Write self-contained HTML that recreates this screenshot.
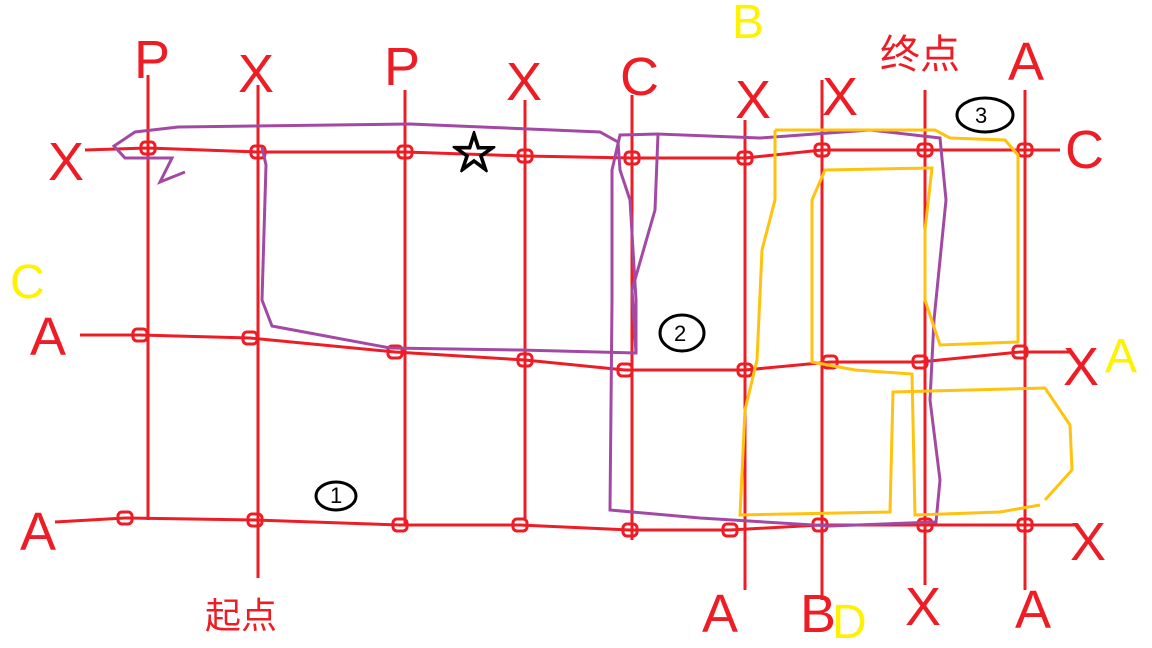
<!DOCTYPE html>
<html><head><meta charset="utf-8"><style>
html,body{margin:0;padding:0;background:#fff;width:1152px;height:648px;overflow:hidden}
svg text{font-family:"Liberation Sans","Noto Sans CJK SC",sans-serif}
</style></head><body>
<svg id="c" width="1152" height="648" viewBox="0 0 1152 648">
<g id="lines" fill="none" stroke="#ee1c24" stroke-width="3"></g>
<g id="nodes" fill="none" stroke="#ee1c24" stroke-width="3"></g>
<path fill="none" stroke="#a349a4" stroke-width="3" d="M185,172 L160,182 L172,158 L125,158 L114,146 L135,132 L178,127 L410,124 L600,132 L618,142 L620,170 L630,200 L636,300 L636,353 L520,350 L390,348 L272,326 L262,300 L266,165 L262,147"/>
<path fill="none" stroke="#a349a4" stroke-width="3" d="M636,353 L632,290 L655,210 L658,134 L760,138 L870,130 L940,138 L946,200 L934,320 L930,400 L940,480 L936,522 L830,526 L700,518 L610,510 L612,300 L612,170 L620,135 L658,134"/>
<path fill="none" stroke="#ffc20e" stroke-width="3" d="M775,130 L775,200 L762,250 L757,360 L745,410 L740,515 L890,512 L893,392 L1045,388 L1070,425 L1072,470 L1045,500"/>
<path fill="none" stroke="#ffc20e" stroke-width="3" d="M775,130 L935,130 L950,138 L1005,140 L1018,155 L1018,342 L940,345 L925,300 L925,230 L932,168 L825,170 L812,200 L812,362 L855,370 L912,374 L915,515 L1000,512 L1040,505"/>
<g fill="#ee1c24" font-size="54">
<text x="134" y="78">P</text><text x="238" y="92">X</text><text x="384" y="85">P</text><text x="506" y="100">X</text>
<text x="620" y="95">C</text><text x="735" y="118">X</text><text x="822" y="115">X</text><text x="1008" y="80">A</text>
<text x="48" y="180">X</text><text x="30" y="355">A</text><text x="20" y="550">A</text>
<text x="1065" y="168">C</text><text x="1063" y="385">X</text><text x="1070" y="560">X</text>
<text x="702" y="632">A</text><text x="800" y="632">B</text><text x="905" y="625">X</text><text x="1015" y="628">A</text>
</g>
<g fill="#fff200" font-size="48">
<text x="732" y="38">B</text><text x="10" y="298">C</text><text x="1105" y="372">A</text><text x="832" y="638">D</text>
</g>
<text x="880" y="68" fill="#ee1c24" font-size="40">终点</text>
<text x="205" y="628" fill="#ee1c24" font-size="36">起点</text>
<g fill="none" stroke="#000" stroke-width="3">
<ellipse cx="985" cy="115" rx="28" ry="17"/><ellipse cx="682" cy="333" rx="22" ry="18"/><ellipse cx="336" cy="496" rx="20" ry="14"/>
</g>
<g font-size="22" fill="#000">
<text x="975" y="123">3</text><text x="674" y="341">2</text><text x="330" y="503">1</text>
</g>
<text x="452" y="168" font-size="44" fill="none" stroke="#000" stroke-width="2">☆</text>
</svg>
<script>
const colX=[148,258,405,525,632,745,822,925,1025];
const colTop=[75,85,90,100,95,120,80,90,90];
const colBot=[520,578,525,520,540,590,600,585,590];
const rowTopY=[150,148,152,152,156,158,158,150,150,150,150];
const rowTopX=[85,148,258,405,525,632,745,822,925,1025,1060];
const rowMidX=[80,140,250,395,525,625,745,830,920,1020,1070];
const rowMidY=[335,335,338,352,360,370,370,362,362,352,352];
const rowBotX=[55,125,255,400,520,630,730,820,925,1025,1075];
const rowBotY=[522,518,520,525,525,530,530,525,525,525,525];
const NS='http://www.w3.org/2000/svg';
const L=document.getElementById('lines'),N=document.getElementById('nodes');
function poly(xs,ys,name){
 const p=document.createElementNS(NS,'polyline');
 p.setAttribute('points',xs.map((x,i)=>x+','+ys[i]).join(' '));
 
 
 L.appendChild(p);
}
colX.forEach((x,i)=>poly([x,x],[colTop[i],colBot[i]],'vertical-line-'+(i+1)));
poly(rowTopX,rowTopY,'top-horizontal-line');
poly(rowMidX,rowMidY,'middle-horizontal-line');
poly(rowBotX,rowBotY,'bottom-horizontal-line');
function node(x,y,name){
 const r=document.createElementNS(NS,'rect');
 r.setAttribute('x',x-7);r.setAttribute('y',y-6);r.setAttribute('width',14);r.setAttribute('height',12);r.setAttribute('rx',4);
 
 
 N.appendChild(r);
}
rowTopX.slice(1,10).forEach((x,i)=>node(x,rowTopY[i+1],'top-node'));
rowMidX.slice(1,10).forEach((x,i)=>node(x,rowMidY[i+1],'middle-node'));
rowBotX.slice(1,10).forEach((x,i)=>node(x,rowBotY[i+1],'bottom-node'));
</script>
</body></html>
